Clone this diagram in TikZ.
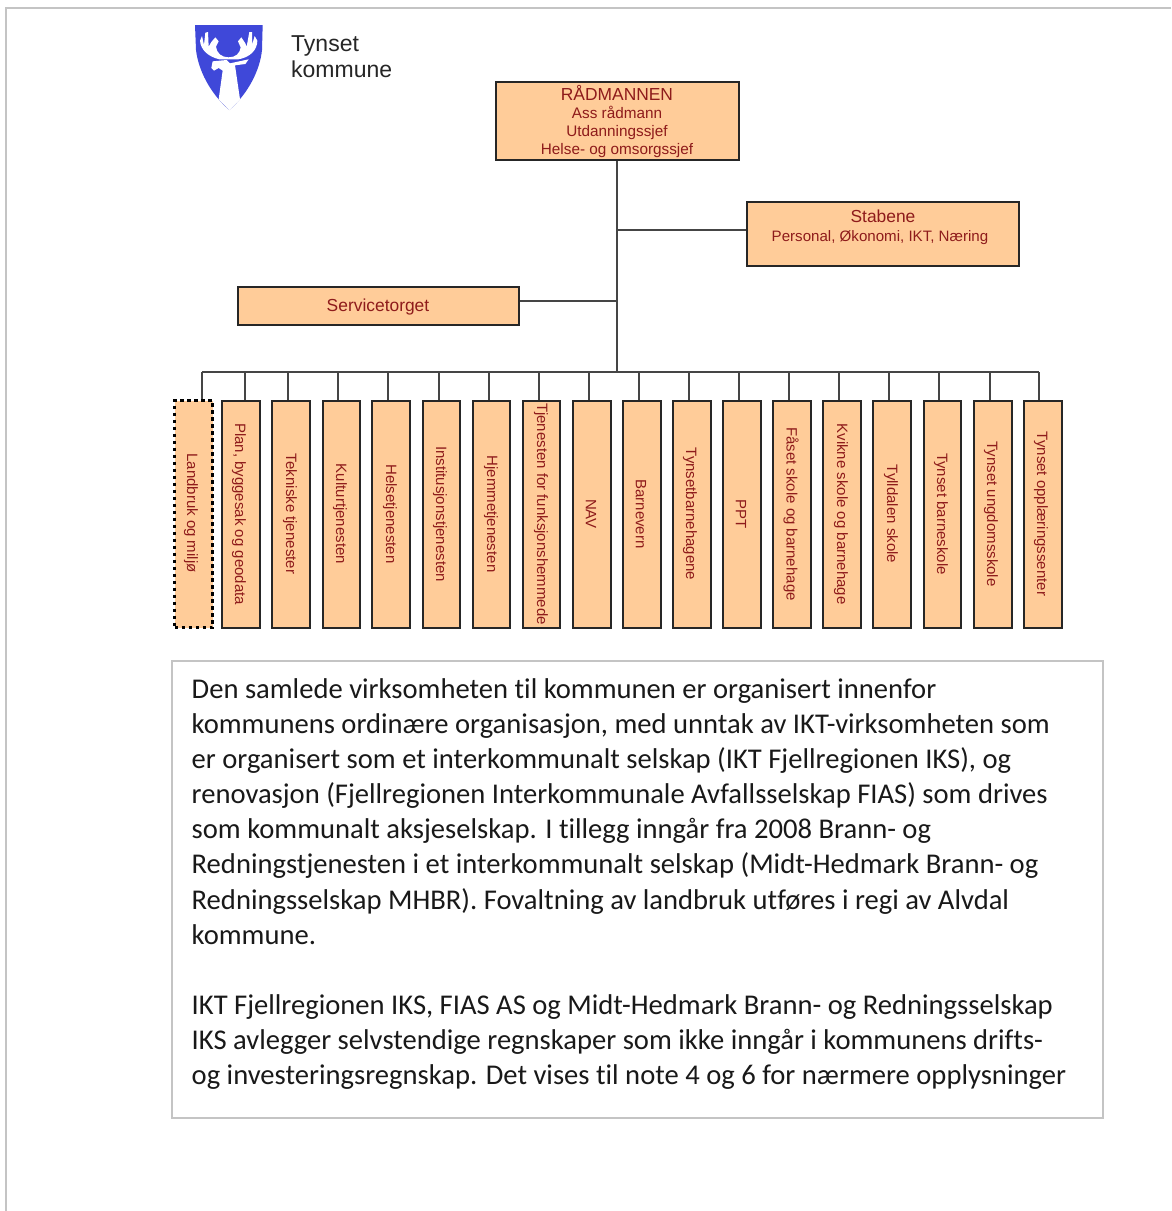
\documentclass[tikz,border=0pt]{standalone}
\usepackage{fontspec}
\setmainfont{Liberation Sans}
\newfontfamily\bodyfont[Ligatures=NoCommon]{Carlito}
\definecolor{boxfill}{HTML}{FFCC99}
\definecolor{boxtext}{HTML}{8E1B1B}
\definecolor{wire}{HTML}{454545}
\definecolor{framegray}{HTML}{C4C4C4}
\definecolor{shieldblue}{HTML}{3F48D9}
\tikzset{
  x=1pt,y=-1pt,
  orgbox/.style={draw=black!85,line width=1.7pt,fill=boxfill,inner sep=0pt,anchor=north west},
  dotbox/.style={draw=black,line width=3.2pt,dash pattern=on 3.2pt off 3.8pt,fill=boxfill,inner sep=0pt,anchor=north west},
  wireline/.style={draw=wire,line width=1.2pt},
  boxlabel/.style={text=boxtext,inner sep=0pt,align=center},
  collabel/.style={text=boxtext,inner sep=0pt,rotate=-90,font=\fontsize{15}{17}\selectfont},
  moose/.style={fill=white,draw=none},
}
\begin{document}
\begin{tikzpicture}
\useasboundingbox (0,0) rectangle (1171,1211);
\fill[white] (0,0) rectangle (1171,1211);
% page frame
\draw[framegray,line width=2pt] (6,1211) -- (6,8) -- (1171,8);
% coat of arms
\begin{scope}[shift={(170,0)},xscale=1/3,yscale=1/3]
\fill[shieldblue] (75,75) -- (278,75) -- (276,150) .. controls (270,210) and (235,280) .. (178,330) .. controls (120,280) and (85,210) .. (78,150) -- cycle;
\fill[black!6] (146,298) -- (178,330) -- (210,298) -- cycle;
\fill[moose] (90,122) -- (96,108) -- (102,135) -- (106,98) -- (114,96) -- (116,140) -- (124,126) -- (136,112) -- (146,124) -- (138,140) .. controls (140,160) and (155,172) .. (176,172) .. controls (197,172) and (210,160) .. (212,142) -- (204,124) -- (214,112) -- (226,130) -- (230,140) -- (238,96) -- (246,96) -- (246,135) -- (254,108) -- (262,122) .. controls (262,150) and (240,172) .. (205,178) -- (148,178) .. controls (115,170) and (92,150) .. (90,122) -- cycle;
\fill[moose] (128,184) -- (170,180) -- (180,190) -- (236,178) -- (226,192) -- (195,196) -- (210,298) -- (178,330) -- (146,298) -- (158,212) -- (146,204) -- (132,212) -- (124,204) -- cycle;
\end{scope}
\node[anchor=north west,inner sep=0pt,align=left,font=\fontsize{23}{26}\selectfont,text=black!85] (logo) at (291,35) {Tynset\\kommune};
% upper boxes
\node[orgbox,minimum width=243pt,minimum height=78pt] (rad) at (495,81) {};
\node[boxlabel,font=\fontsize{17.4}{18}\selectfont] (radt) at (617,93) {RÅDMANNEN};
\node[boxlabel,font=\fontsize{15.3}{18}\selectfont,anchor=north] (radu) at (617,106) {Ass rådmann\\Utdanningssjef\\Helse- og omsorgssjef};
\node[orgbox,minimum width=272pt,minimum height=64pt] (stab) at (746,201) {};
\node[boxlabel,font=\fontsize{17.4}{18}\selectfont] (stabt) at (883,216) {Stabene};
\node[boxlabel,font=\fontsize{15.1}{18}\selectfont] (stabu) at (880,238) {Personal, Økonomi, IKT, Næring};
\node[orgbox,minimum width=281pt,minimum height=38pt] (serv) at (237,286) {};
\node[boxlabel,font=\fontsize{17.4}{18}\selectfont] (servt) at (378,307) {Servicetorget};
% trunk and bus
\coordinate (busL) at (202,372);
\coordinate (busR) at (1039,372);
\coordinate (trunkEnd) at (617,372);
\coordinate (stabJ) at (617,230);
\coordinate (servJ) at (617,301);
\draw[wireline] (rad.south -| trunkEnd) -- (trunkEnd);
\draw[wireline] (stabJ) -- (stabJ -| stab.west);
\draw[wireline] (servJ) -- (servJ -| serv.east);
\draw[wireline] (busL) -- (busR);
% columns: index / left / width / drop x / text x / label
\foreach \i/\l/\w/\d/\t/\s in {
 2/221/38/245/239/{Plan, byggesak og geodata},
 3/271/38/288/290/{Tekniske tjenester},
 4/322/37/338/340/{Kulturtjenesten},
 5/371/38/388/390/{Helsetjenesten},
 6/422/37/439/440/{Institusjonstjenesten},
 7/472/37/489/491/{Hjemmetjenesten},
 8/522/37/539/541/{Tjenesten for funksjonshemmede},
 9/572/38/589/591/{NAV},
 10/622/38/639/641/{Barnevern},
 11/672/38/689/690/{Tynsetbarnehagene},
 12/722/38/739/741/{PPT},
 13/772/38/789/791/{Fåset skole og barnehage},
 14/822/38/839/841/{Kvikne skole og barnehage},
 15/872/38/889/891/{Tylldalen skole},
 16/923/37/939/941/{Tynset barneskole},
 17/973/38/990/991/{Tynset ungdomsskole},
 18/1023/38/1039/1041/{Tynset opplæringssenter}}{
  \node[orgbox,minimum width=\w pt,minimum height=227pt] (b\i) at (\l,400) {};
  \node[collabel] (t\i) at (\t,514) {\s};
  \coordinate (d\i) at (\d,372);
  \draw[wireline] (d\i) -- (d\i |- b\i.north);
}
\node[dotbox,minimum width=38pt,minimum height=227pt] (b1) at (173,399) {};
\node[collabel] (t1) at (191,513) {Landbruk og miljø};
\coordinate (d1) at (202,372);
\draw[wireline] (d1) -- (d1 |- b1.north);
% text box
\node[draw=framegray,line width=1.8pt,anchor=north west,inner sep=0pt,minimum width=931pt,minimum height=457pt] (para) at (171,660) {};
\node[anchor=north west,inner sep=0pt,align=left,text=black!90,font=\bodyfont\fontsize{28.6}{35.17}\selectfont] (paratext) at (191.5,678) {Den samlede virksomheten til kommunen er organisert innenfor\\
kommunens ordinære organisasjon, med unntak av IKT-virksomheten som\\
er organisert som et interkommunalt selskap (IKT Fjellregionen IKS), og\\
renovasjon (Fjellregionen Interkommunale Avfallsselskap FIAS) som drives\\
som kommunalt aksjeselskap. I tillegg inngår fra 2008 Brann- og\\
Redningstjenesten i et interkommunalt selskap (Midt-Hedmark Brann- og\\
Redningsselskap MHBR). Fovaltning av landbruk utføres i regi av Alvdal\\
kommune.\\[35.17pt]
IKT Fjellregionen IKS, FIAS AS og Midt-Hedmark Brann- og Redningsselskap\\
IKS avlegger selvstendige regnskaper som ikke inngår i kommunens drifts-\\
og investeringsregnskap. Det vises til note 4 og 6 for nærmere opplysninger};
\end{tikzpicture}
\end{document}
